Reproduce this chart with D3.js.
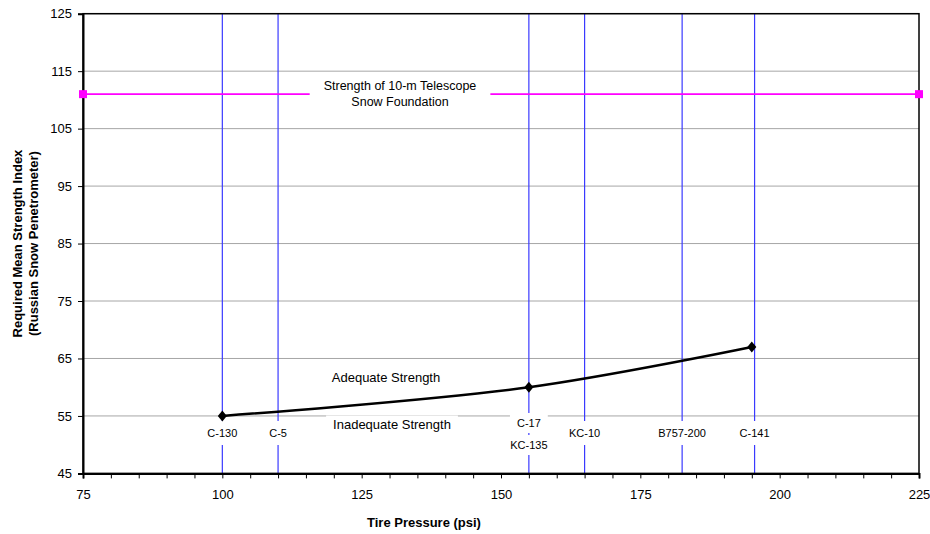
<!DOCTYPE html>
<html>
<head>
<meta charset="utf-8">
<script src="https://cdn.jsdelivr.net/npm/d3@7"></script>
<style>
  body { margin: 0; background: #fff; }
  svg { display: block; font-family: "Liberation Sans", Arial, sans-serif; }
</style>
</head>
<body>
<svg id="chart" width="930" height="534"></svg>
<script>
// data
const curvePsi = [100, 155, 195];
const curveIndex = [55, 60, 67];
const foundationPsi = [75, 225];
const foundationIndex = 111;
const linePsi = [100, 110, 155, 165, 182.5, 195.5];
const lineNames = [["C-130"], ["C-5"], ["C-17", "KC-135"], ["KC-10"], ["B757-200"], ["C-141"]];
const xTicks = [75, 100, 125, 150, 175, 200, 225];
const yTicks = [45, 55, 65, 75, 85, 95, 105, 115, 125];

const plotLeft = 83, plotRight = 919, plotTop = 13.7, plotBottom = 473.4;
const svg = d3.select("#chart");

const x = d3.scaleLinear().domain([75, 225]).range([plotLeft, plotRight]);
const y = d3.scaleLinear().domain([45, 125]).range([plotBottom, plotTop]);

// horizontal gridlines
svg.append("g")
  .selectAll("line")
  .data(yTicks)
  .enter()
  .append("line")
  .attr("x1", plotLeft).attr("x2", plotRight)
  .attr("y1", d => y(d)).attr("y2", d => y(d))
  .attr("stroke", "#a6a6a6")
  .attr("stroke-width", 1);

// aircraft lines
svg.append("g")
  .selectAll("line")
  .data(linePsi)
  .enter()
  .append("line")
  .attr("x1", d => x(d)).attr("x2", d => x(d))
  .attr("y1", plotTop).attr("y2", plotBottom)
  .attr("stroke", "#3a3aff")
  .attr("stroke-width", 1.2);

// snow foundation strength
svg.append("line")
  .attr("x1", x(foundationPsi[0])).attr("x2", x(foundationPsi[1]))
  .attr("y1", y(foundationIndex)).attr("y2", y(foundationIndex))
  .attr("stroke", "#ff00ff")
  .attr("stroke-width", 1.6);

// text with white box behind it
function boxedText(g, tx, ty, txt, size, padX, padY) {
  const rect = g.append("rect").attr("fill", "#fff");
  const t = g.append("text")
    .attr("x", tx).attr("y", ty)
    .attr("text-anchor", "middle")
    .attr("font-size", size)
    .attr("fill", "#000")
    .text(txt);
  const b = t.node().getBBox();
  rect.attr("x", b.x - padX).attr("y", b.y - padY)
    .attr("width", b.width + padX * 2).attr("height", b.height + padY * 2);
}

const labels = svg.append("g");
lineNames.forEach((names, i) => {
  if (names.length === 1) {
    boxedText(labels, x(linePsi[i]), 437, names[0], 11, 3, 6);
  } else {
    boxedText(labels, x(linePsi[i]), 427, names[0], 11, 7, 4);
    boxedText(labels, x(linePsi[i]), 449, names[1], 11, 3, 4);
  }
});

boxedText(labels, 392, 428.5, "Inadequate Strength", 13, 7, 1);
boxedText(labels, 386, 382, "Adequate Strength", 13, 5, 2);

const fg = svg.append("g");
const rectF = fg.append("rect").attr("fill", "#fff");
const ft = fg.append("text")
  .attr("text-anchor", "middle")
  .attr("font-size", 12.5);
ft.append("tspan").attr("x", 400).attr("y", 90).text("Strength of 10-m Telescope");
ft.append("tspan").attr("x", 400).attr("y", 106).text("Snow Foundation");
const fb = ft.node().getBBox();
rectF.attr("x", fb.x - 14).attr("y", fb.y - 4)
  .attr("width", fb.width + 28).attr("height", fb.height + 6);

// frame and axes
svg.append("rect")
  .attr("x", plotLeft).attr("y", plotTop)
  .attr("width", plotRight - plotLeft).attr("height", plotBottom - plotTop)
  .attr("fill", "none")
  .attr("stroke", "#000")
  .attr("stroke-width", 1.5);

const xAxis = d3.axisBottom(x)
  .tickValues(d3.range(75, 226, 5))
  .tickSize(5)
  .tickFormat(d => xTicks.includes(d) ? d : "");
svg.append("g")
  .attr("transform", "translate(0," + plotBottom + ")")
  .call(xAxis)
  .call(g => g.select(".domain").attr("stroke-width", 2))
  .call(g => g.selectAll(".tick line").attr("stroke-width", 1))
  .call(g => g.selectAll("text")
    .attr("font-family", "Liberation Sans, Arial, sans-serif")
    .attr("font-size", 13).attr("fill", "#000").attr("dy", "1.35em"));

const yAxis = d3.axisLeft(y)
  .tickValues(yTicks)
  .tickSize(5)
  .tickPadding(6);
svg.append("g")
  .attr("transform", "translate(" + plotLeft + ",0)")
  .call(yAxis)
  .call(g => g.select(".domain").attr("stroke-width", 2))
  .call(g => g.selectAll("text")
    .attr("font-family", "Liberation Sans, Arial, sans-serif")
    .attr("font-size", 13).attr("fill", "#000"));

// required strength curve
const pts = curvePsi.map((p, i) => [p, curveIndex[i]]);
const line = d3.line()
  .x(d => x(d[0]))
  .y(d => y(d[1]))
  .curve(d3.curveCatmullRom.alpha(0.5));
svg.append("path")
  .datum(pts)
  .attr("d", line)
  .attr("fill", "none")
  .attr("stroke", "#000")
  .attr("stroke-width", 2.5);

svg.append("g")
  .selectAll("path")
  .data(pts)
  .enter()
  .append("path")
  .attr("transform", d => "translate(" + x(d[0]) + "," + y(d[1]) + ")")
  .attr("d", "M0,-5.5L4.5,0L0,5.5L-4.5,0Z")
  .attr("fill", "#000");

// foundation end markers
svg.append("g")
  .selectAll("rect")
  .data(foundationPsi)
  .enter()
  .append("rect")
  .attr("x", d => x(d) - 4).attr("y", y(foundationIndex) - 4)
  .attr("width", 8).attr("height", 8)
  .attr("fill", "#ff00ff");

// axis titles
svg.append("text")
  .attr("x", 424).attr("y", 527)
  .attr("text-anchor", "middle")
  .attr("font-size", 13)
  .attr("font-weight", "bold")
  .text("Tire Pressure (psi)");

const yt = svg.append("text")
  .attr("transform", "translate(0," + ((plotTop + plotBottom) / 2) + ") rotate(-90)")
  .attr("text-anchor", "middle")
  .attr("font-size", 13)
  .attr("font-weight", "bold");
yt.append("tspan").attr("x", 0).attr("y", 21.5).text("Required Mean Strength Index");
yt.append("tspan").attr("x", 0).attr("y", 37.5).text("(Russian Snow Penetrometer)");
</script>
</body>
</html>
